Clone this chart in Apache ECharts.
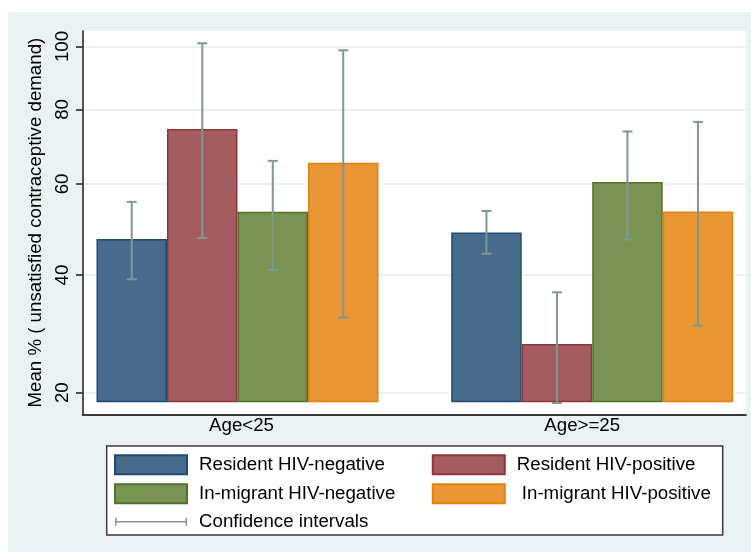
<!DOCTYPE html>
<html>
<head>
<meta charset="utf-8">
<script src="https://cdn.jsdelivr.net/npm/echarts@6/dist/echarts.min.js"></script>
<style>
  html, body { margin: 0; padding: 0; background: #ffffff; }
  #chart { width: 751px; height: 552px; }
</style>
</head>
<body>
<div id="chart"></div>
<script>
// Categories and groups
const categories = ['Age<25', 'Age>=25'];
const seriesNames = ['Resident HIV-negative', 'Resident HIV-positive', 'In-migrant HIV-negative', 'In-migrant HIV-positive'];
const ciName = 'Confidence intervals';

// Mean % of unsatisfied contraceptive demand, per group (Age<25, Age>=25)
const residentNegMean = [47.4, 48.8];
const residentPosMean = [74.4, 27.6];
const migrantNegMean = [53.4, 60.5];
const migrantPosMean = [65.3, 53.5];

// Confidence interval bounds
const residentNegLow = [39.2, 44.3];
const residentNegHigh = [55.7, 53.6];
const residentPosLow = [47.6, 18.5];
const residentPosHigh = [101.1, 36.7];
const migrantNegLow = [41.0, 47.3];
const migrantNegHigh = [65.8, 73.7];
const migrantPosLow = [32.1, 30.7];
const migrantPosHigh = [98.7, 76.4];

// Y axis tick labels and range
const yTicks = [20, 40, 60, 80, 100];
const axisMinValue = 16.9;
const axisMaxValue = 105.4;
const barBase = 18.6;
const scaleOffset = 40;

const means = [residentNegMean, residentPosMean, migrantNegMean, migrantPosMean];
const lows = [residentNegLow, residentPosLow, migrantNegLow, migrantPosLow];
const highs = [residentNegHigh, residentPosHigh, migrantNegHigh, migrantPosHigh];

// Compressed y scale: log(v + offset)
const T = v => Math.log(v + scaleOffset);
const B = v => T(v) - T(barBase);

const fills = ['#486a8b', '#a55c60', '#799355', '#ea9634'];
const borders = ['#1f4a73', '#8f343b', '#52722b', '#e38110'];
const ciColor = '#7c9992';
const font = "'Liberation Sans', Arial, Helvetica, sans-serif";
const fs = 18.7;
const barWidth = 70.5;

const chart = echarts.init(document.getElementById('chart'), null, { renderer: 'canvas' });

const barSeries = seriesNames.map((name, s) => ({
  name,
  type: 'bar',
  xAxisIndex: 1,
  yAxisIndex: 1,
  barWidth,
  barGap: '0%',
  itemStyle: { color: fills[s], borderColor: borders[s], borderWidth: 1.5 },
  data: means[s].map(B),
  z: 2
}));

const ciData = [];
seriesNames.forEach((name, s) => {
  categories.forEach((c, i) => {
    ciData.push([i, s, B(lows[s][i]), B(highs[s][i])]);
  });
});

const ciSeries = {
  name: ciName,
  type: 'custom',
  xAxisIndex: 1,
  yAxisIndex: 1,
  itemStyle: { color: ciColor },
  encode: { x: 0, y: [2, 3] },
  z: 5,
  data: ciData,
  renderItem: function (params, api) {
    const cat = api.value(0);
    const s = api.value(1);
    const lo = api.coord([cat, api.value(2)]);
    const hi = api.coord([cat, api.value(3)]);
    const x = lo[0] + (s - 1.5) * barWidth;
    const style = { stroke: ciColor, lineWidth: 2 };
    const cap = 5;
    return {
      type: 'group',
      children: [
        { type: 'line', shape: { x1: x, y1: lo[1], x2: x, y2: hi[1] }, style },
        { type: 'line', shape: { x1: x - cap, y1: hi[1], x2: x + cap, y2: hi[1] }, style },
        { type: 'line', shape: { x1: x - cap, y1: lo[1], x2: x + cap, y2: lo[1] }, style }
      ]
    };
  }
};

const tickCoords = yTicks.map(T);

const option = {
  animation: false,
  backgroundColor: '#ffffff',
  textStyle: { fontFamily: font },
  graphic: [
    { type: 'rect', z: -10, shape: { x: 8, y: 12, width: 743, height: 540 }, style: { fill: '#eaf2f3' } },
    { type: 'rect', z: -5, shape: { x: 106.7, y: 446, width: 616, height: 89 }, style: { fill: '#ffffff', stroke: '#3a3a3a', lineWidth: 1.5 } }
  ],
  grid: [
    // plot frame: axes, ticks and grid lines
    { left: 82.5, right: 5, top: 31, bottom: 137.7, show: true, backgroundColor: '#ffffff', borderWidth: 0, outerBoundsMode: 'none', containLabel: false },
    // bar groups
    { left: 60.15, width: 709.4, top: 31, bottom: 149.7, outerBoundsMode: 'none', containLabel: false }
  ],
  xAxis: [
    {
      gridIndex: 0, type: 'value', min: 0, max: 1,
      axisLine: { show: true, lineStyle: { color: '#3a3a3a', width: 1.8 } },
      axisTick: { show: false }, axisLabel: { show: false }, splitLine: { show: false }
    },
    {
      gridIndex: 1, type: 'category', data: categories,
      axisLine: { show: false }, axisTick: { show: false }, splitLine: { show: false },
      axisLabel: {
        margin: 14,
        color: '#000',
        fontSize: fs,
        fontFamily: font,
        formatter: (v, i) => '{c' + i + '|' + v + '}',
        rich: {
          c0: { fontSize: fs, fontFamily: font, color: '#000', padding: [0, 0, 0, 8] },
          c1: { fontSize: fs, fontFamily: font, color: '#000', padding: [0, 20, 0, 0] }
        }
      }
    }
  ],
  yAxis: [
    {
      gridIndex: 0, type: 'value', min: T(axisMinValue), max: T(axisMaxValue),
      name: 'Mean % ( unsatisfied contraceptive demand)',
      nameLocation: 'middle',
      nameGap: 28,
      nameTextStyle: { fontSize: fs, fontFamily: font, color: '#000' },
      axisLine: { show: true, lineStyle: { color: '#1a1a1a', width: 1.5 } },
      axisTick: { show: true, length: 6.5, customValues: tickCoords, lineStyle: { color: '#1a1a1a', width: 1.5 } },
      axisLabel: {
        customValues: tickCoords,
        rotate: 90,
        margin: 10,
        fontSize: fs,
        fontFamily: font,
        color: '#000',
        formatter: v => String(Math.round(Math.exp(v) - scaleOffset))
      },
      splitLine: { show: true, lineStyle: { color: '#e5edef', width: 1.5 } }
    },
    {
      gridIndex: 1, type: 'value', min: 0, max: B(axisMaxValue),
      axisLine: { show: false }, axisTick: { show: false }, axisLabel: { show: false }, splitLine: { show: false }
    }
  ],
  legend: [
    {
      left: 114, top: 454.3, padding: 0, orient: 'vertical',
      itemWidth: 72, itemHeight: 19, itemGap: 8,
      selectedMode: false, symbolKeepAspect: true,
      textStyle: { fontSize: fs, fontFamily: font, color: '#000', lineHeight: 19, padding: [0, 0, 0, 7] },
      data: [
        { name: seriesNames[0], icon: 'rect' },
        { name: seriesNames[2], icon: 'rect' },
        { name: ciName, icon: 'path://M0,0h1.5v8h-1.5z M0,3.25h72v1.5h-72z M70.5,0h1.5v8h-1.5z' }
      ]
    },
    {
      left: 431.8, top: 454.3, padding: 0, orient: 'vertical',
      itemWidth: 72, itemHeight: 19, itemGap: 8,
      selectedMode: false,
      textStyle: { fontSize: fs, fontFamily: font, color: '#000', lineHeight: 19, padding: [0, 0, 0, 7] },
      data: [
        { name: seriesNames[1], icon: 'rect' },
        { name: seriesNames[3], icon: 'rect', textStyle: { padding: [0, 0, 0, 12] } }
      ]
    }
  ],
  series: [
    { type: 'line', xAxisIndex: 0, yAxisIndex: 0, data: [], silent: true },
    ...barSeries,
    ciSeries
  ]
};

chart.setOption(option);
</script>
</body>
</html>
